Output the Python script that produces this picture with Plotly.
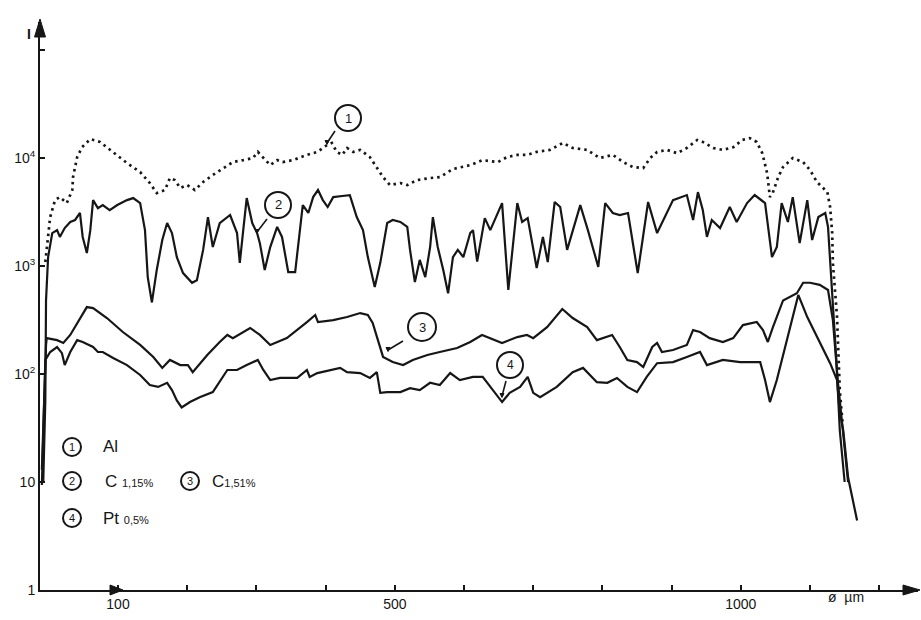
import plotly.graph_objects as go

# ---------------- data (diameter in µm, intensity I) ----------------
al_x = [-5, -3, 2, 9, 16, 26, 34, 35, 41, 48,
        60, 74, 93, 113, 132, 146, 156, 168, 175, 182,
        190, 200, 211, 223, 237, 252, 266, 281, 295, 302,
        310, 320, 330, 338, 353, 373, 388, 402, 409, 416,
        424, 431, 440, 450, 464, 474, 483, 493, 508, 518,
        532, 551, 565, 584, 609, 627, 649, 662, 677, 691,
        705, 724, 743, 757, 778, 796, 815, 830, 844, 859,
        869, 879, 893, 908, 922, 937, 945, 960, 974, 989,
        1002, 1013, 1023, 1031, 1038, 1042, 1046, 1054, 1061, 1075,
        1090, 1100, 1110, 1125, 1129, 1132, 1133, 1136, 1139, 1143, 1147]
al_y = [1090, 1410, 2840, 4080, 4350, 3830, 5060, 6660, 10200, 12600,
        15000, 14100, 11400, 8990, 7420, 5870, 4740, 5060, 6530, 6250,
        5270, 5620, 5060, 6000, 6960, 8080, 9180, 9570, 10000, 11400,
        10000, 8610, 9570, 9180, 9570, 10700, 11400, 13200, 13800, 11400,
        10700, 12400, 11400, 11900, 10200, 8260, 6660, 5620, 5870, 5620,
        6250, 6530, 6660, 7910, 8610, 9570, 9180, 10200, 10700, 10700,
        11400, 11900, 13800, 12400, 11900, 10000, 10700, 9180, 8260, 8080,
        10000, 11400, 11900, 11100, 12400, 14700, 14100, 12400, 11900, 12600,
        14700, 15300, 14100, 11100, 7260, 4350, 4740, 6660, 8260, 10000,
        9180, 7740, 6000, 4840, 3520, 2020, 1070, 600, 337, 71, 35]

c115_x = [-8, -5, -4, -1, 5, 12, 16, 23, 31, 38,
          45, 49, 55, 60, 64, 71, 78, 88, 99, 113,
          122, 132, 139, 143, 149, 156, 164, 171, 178, 185,
          194, 207, 214, 223, 230, 237, 247, 262, 272, 276,
          281, 286, 294, 301, 305, 312, 320, 330, 337, 346,
          356, 363, 367, 375, 382, 389, 396, 403, 411, 424,
          435, 445, 454, 461, 471, 479, 489, 497, 508, 518,
          522, 529, 536, 544, 551, 555, 562, 570, 577, 584,
          591, 599, 609, 613, 619, 630, 638, 655, 664, 677,
          684, 692, 705, 714, 721, 731, 739, 749, 768, 779,
          794, 804, 815, 825, 837, 851, 866, 879, 902, 922,
          931, 938, 945, 951, 958, 970, 984, 994, 1009, 1020,
          1035, 1045, 1052, 1059, 1068, 1075, 1085, 1096, 1103, 1112,
          1122, 1126, 1132, 1138, 1143, 1150]
c115_y = [10, 57, 480, 1210, 2020, 2150, 1860, 2250, 2560, 2670,
          3100, 1860, 1320, 2150, 4080, 3440, 3670, 3300, 3670, 4080,
          4260, 3830, 2150, 790, 460, 920, 1740, 2500, 2020, 1210,
          860, 700, 740, 1410, 2840, 1500, 2500, 2970, 2020, 1070,
          2150, 4260, 2500, 2020, 1630, 920, 1500, 2300, 1860, 880,
          880, 2020, 3670, 3100, 4350, 5060, 4080, 3520, 4350, 4450,
          4540, 2840, 2150, 1210, 640, 1070, 2500, 2670, 2560, 2300,
          1410, 710, 1140, 790, 1500, 2840, 1500, 920, 560, 1210,
          1410, 1210, 2020, 2150, 1100, 2780, 2150, 3830, 600, 3830,
          2560, 2780, 960, 1860, 1090, 3920, 3520, 1410, 3670, 2150,
          980, 3830, 3100, 2970, 3100, 860, 3920, 2020, 4080, 4540,
          2670, 4840, 3300, 1860, 2670, 2250, 3520, 2560, 3830, 4540,
          3830, 1210, 1500, 3830, 2560, 4350, 1630, 4080, 1740, 2840,
          3100, 2300, 600, 135, 30, 10]

c151_x = [-10, -7, -4, -3, 12, 21, 31, 55, 64, 84,
          107, 132, 151, 164, 175, 190, 201, 208, 229, 247,
          258, 266, 291, 305, 320, 344, 359, 373, 385, 389,
          411, 431, 450, 461, 468, 474, 483, 497, 512, 526,
          547, 565, 590, 609, 626, 655, 677, 691, 700, 720,
          742, 757, 778, 792, 814, 825, 836, 850, 859, 872,
          879, 886, 902, 922, 931, 941, 955, 974, 989, 1003,
          1023, 1032, 1039, 1046, 1061, 1081, 1090, 1100, 1114, 1126,
          1133, 1140, 1148, 1155]
c151_y = [13, 57, 186, 215, 206, 194, 230, 417, 408, 330,
          245, 186, 144, 114, 135, 121, 121, 104, 150, 198,
          230, 215, 267, 230, 186, 215, 255, 303, 352, 303,
          316, 337, 367, 352, 297, 220, 144, 129, 121, 135,
          150, 160, 174, 198, 230, 194, 220, 230, 215, 272,
          400, 330, 272, 206, 230, 178, 135, 129, 116, 178,
          194, 160, 167, 186, 255, 245, 215, 198, 215, 284,
          303, 255, 198, 267, 480, 560, 700, 700, 670, 600,
          316, 88, 26, 10]

pt_x = [-10, -7, -5, 2, 12, 19, 23, 31, 41, 49,
        64, 71, 78, 93, 113, 132, 146, 158, 171, 178,
        185, 192, 204, 218, 237, 258, 272, 286, 302, 310,
        320, 334, 359, 373, 377, 388, 406, 421, 431, 450,
        464, 474, 479, 489, 508, 522, 536, 551, 565, 580,
        594, 613, 627, 645, 655, 666, 681, 692, 700, 710,
        734, 757, 772, 792, 807, 821, 836, 850, 864, 879,
        902, 922, 941, 951, 974, 999, 1028, 1035, 1042, 1052,
        1067, 1083, 1096, 1114, 1129, 1139, 1143, 1148, 1155, 1168]
pt_y = [9.4, 37, 135, 160, 178, 156, 121, 160, 206, 198,
        178, 160, 160, 141, 121, 98, 79, 76, 83, 71,
        57, 49, 55, 61, 68, 109, 109, 121, 135, 109,
        88, 92, 92, 109, 94, 102, 109, 114, 104, 102,
        92, 104, 67, 68, 68, 74, 71, 83, 79, 102,
        88, 94, 94, 67, 55, 67, 76, 94, 67, 61,
        76, 104, 114, 84, 83, 92, 76, 68, 94, 126,
        129, 144, 160, 121, 135, 129, 129, 88, 55, 88,
        215, 540, 337, 194, 126, 88, 44, 30, 11, 4.4]

x_tick_vals = [100, 500, 1000]
x_tick_text = ["100", "500", "1000"]
x_minor_ticks = [200, 300, 400, 600, 700, 800, 900, 1100, 1200]
y_tick_vals = [1, 10, 100, 1000, 10000]
y_tick_text = ["1", "10", "10<sup>2</sup>", "10<sup>3</sup>", "10<sup>4</sup>"]
y_minor_ticks = [100000]

legend_labels = ["Al", "C <span style='font-size:11px'>1,15%</span>",
                 "C<span style='font-size:11px'>1,51%</span>",
                 "Pt <span style='font-size:11px'>0,5%</span>"]

# ---------------- figure ----------------
INK = "#161616"
FONT = "Liberation Sans"

fig = go.Figure()
fig.add_trace(go.Scatter(x=al_x, y=al_y, mode="lines",
                         line=dict(color=INK, width=2.7, dash="2.5px,4px")))
fig.add_trace(go.Scatter(x=c115_x, y=c115_y, mode="lines",
                         line=dict(color=INK, width=2.2)))
fig.add_trace(go.Scatter(x=c151_x, y=c151_y, mode="lines",
                         line=dict(color=INK, width=2.2)))
fig.add_trace(go.Scatter(x=pt_x, y=pt_y, mode="lines",
                         line=dict(color=INK, width=2.2)))

PW, PH = 878.0, 568.0   # plot area size in px


def px2paper(px, py):
    return (px - 40) / PW, (590 - py) / PH


shapes = []
annotations = []


def circled(px, py, digit, r, fsize):
    xp, yp = px2paper(px, py)
    shapes.append(dict(type="circle", xref="paper", yref="paper",
                       xsizemode="pixel", ysizemode="pixel",
                       xanchor=xp, yanchor=yp, x0=-r, x1=r, y0=-r, y1=r,
                       line=dict(color=INK, width=2)))
    annotations.append(dict(x=xp, y=yp, xref="paper", yref="paper",
                            text=digit, showarrow=False,
                            font=dict(family=FONT, size=fsize, color=INK),
                            xanchor="center", yanchor="middle"))


def leader(tx, ty, hx, hy):
    x0, y0 = px2paper(tx, ty)
    x1, y1 = px2paper(hx, hy)
    shapes.append(dict(type="line", xref="paper", yref="paper",
                       x0=x0, y0=y0, x1=x1, y1=y1,
                       line=dict(color=INK, width=1.6)))
    shapes.append(dict(type="path", xref="paper", yref="paper",
                       xsizemode="pixel", ysizemode="pixel",
                       xanchor=x1, yanchor=y1,
                       path="M -2,2.5 L 2,2.5 L 0,-1.5 Z",
                       fillcolor=INK, line=dict(color=INK, width=1)))


def arrowhead(px, py, path):
    xp, yp = px2paper(px, py)
    shapes.append(dict(type="path", xref="paper", yref="paper",
                       xsizemode="pixel", ysizemode="pixel",
                       xanchor=xp, yanchor=yp, path=path,
                       fillcolor=INK, line=dict(color=INK, width=1)))


# callouts on the curves
circled(348, 118, "1", 13, 13)
leader(335, 131, 327, 143)
circled(278, 205, "2", 13, 13)
leader(267, 219, 257, 232)
circled(422, 327, "3", 14, 13)
leader(403, 341, 388, 350)
circled(510, 365, "4", 13, 12)
leader(506, 381, 502, 396)

# legend block
circled(72, 447, "1", 9, 11)
circled(72, 481, "2", 9, 11)
circled(190, 481, "3", 9, 11)
circled(72, 518, "4", 9, 11)
for (lx, ly), lab in zip([(101, 447), (103, 481), (210, 481), (101, 518)], legend_labels):
    xp, yp = px2paper(lx, ly)
    annotations.append(dict(x=xp, y=yp, xref="paper", yref="paper", text=lab,
                            showarrow=False, xanchor="left", yanchor="middle",
                            font=dict(family=FONT, size=17, color=INK)))

# axis arrowheads
arrowhead(40, 22, "M -5.5,-15 L 5.5,-15 L 0,3 Z")
arrowhead(918, 590, "M -15,-5 L -15,5 L 2,0 Z")
arrowhead(123, 590, "M -13,-5 L -13,5 L 0,0 Z")

# axis titles
xp, yp = px2paper(25, 24)
annotations.append(dict(x=xp, y=yp, xref="paper", yref="paper", text="<b>I</b>",
                        showarrow=False, font=dict(family=FONT, size=14, color=INK)))
xp, yp = px2paper(866, 607)
annotations.append(dict(x=xp, y=yp, xref="paper", yref="paper", text="ø  µm",
                        showarrow=False, font=dict(family=FONT, size=14, color=INK)))

fig.update_layout(
    width=921, height=620,
    margin=dict(l=40, r=3, t=22, b=30),
    paper_bgcolor="white", plot_bgcolor="white",
    showlegend=False,
    shapes=shapes, annotations=annotations,
    font=dict(family=FONT, color=INK),
    xaxis=dict(range=[-12.7, 1256], showline=True, linewidth=2, linecolor=INK,
               ticks="inside", ticklen=5, tickwidth=1.5, tickcolor=INK,
               tickmode="array", tickvals=x_tick_vals, ticktext=x_tick_text,
               minor=dict(tickmode="array", tickvals=x_minor_ticks, ticks="inside",
                          ticklen=5, tickwidth=1.5, tickcolor=INK, showgrid=False),
               automargin=False, showgrid=False, zeroline=False,
               tickfont=dict(family=FONT, size=14, color=INK)),
    yaxis=dict(type="log", range=[0, 5.26], showline=True, linewidth=2, linecolor=INK,
               ticks="inside", ticklen=5, tickwidth=1.5, tickcolor=INK,
               tickmode="array", tickvals=y_tick_vals, ticktext=y_tick_text,
               minor=dict(tickmode="array", tickvals=y_minor_ticks, ticks="inside",
                          ticklen=5, tickwidth=1.5, tickcolor=INK, showgrid=False),
               automargin=False, showgrid=False, zeroline=False,
               tickfont=dict(family=FONT, size=14, color=INK)),
)

fig.write_html("out.html",
               config={"displayModeBar": False},
               post_script="document.body.style.margin='0';"
                           "document.body.style.overflow='hidden';")
